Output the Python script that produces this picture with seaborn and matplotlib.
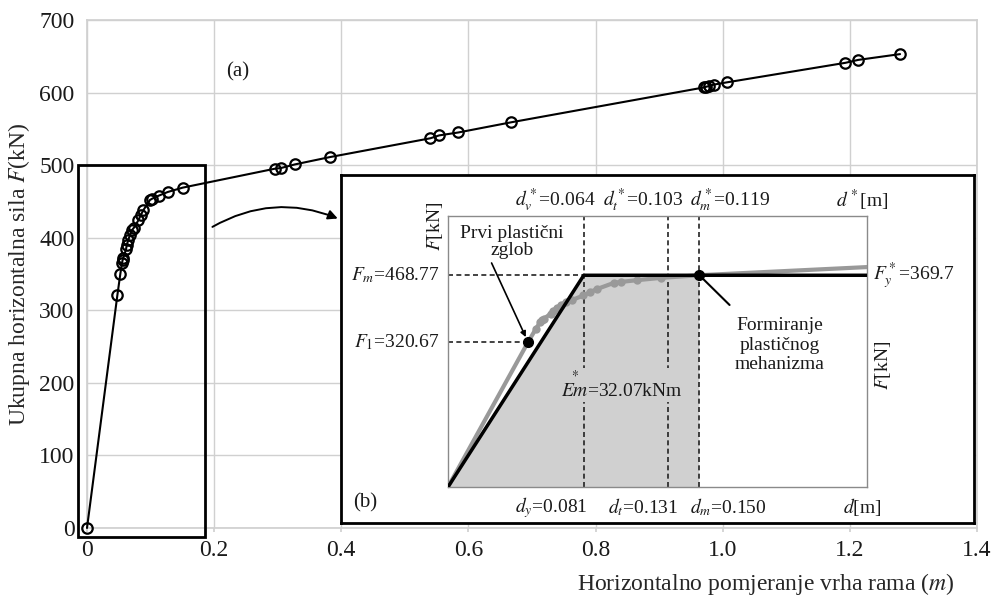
import matplotlib
matplotlib.use("Agg")
import matplotlib.pyplot as plt
import seaborn as sns
import pandas as pd
from matplotlib.patches import Rectangle, FancyArrowPatch
import matplotlib.transforms as mtransforms

sns.set_theme(style="whitegrid")
plt.rcParams["font.family"] = ["Liberation Serif", "DejaVu Serif"]
plt.rcParams["mathtext.fontset"] = "stix"
plt.rcParams["text.color"] = "#1a1a1a"

# Pushover curve (a): top displacement [m] vs base shear [kN]
disp = [0, 0.0478, 0.0524, 0.055, 0.056, 0.057, 0.0614, 0.0625, 0.065, 0.0677,
        0.0704, 0.074, 0.0808, 0.0845, 0.0887, 0.099, 0.103, 0.113, 0.127, 0.1505,
        0.295, 0.305, 0.327, 0.3815, 0.540, 0.554, 0.584, 0.667, 0.970, 0.974,
        0.978, 0.986, 1.006, 1.193, 1.213, 1.279]
force = [0, 321, 350, 365, 369, 372, 384, 390, 397, 404,
         410, 414, 424, 431, 438, 452, 454, 458, 463, 469,
         495, 496, 501, 511, 537, 541, 545, 559, 607, 608,
         609, 611, 614, 641, 645, 653]

x_ticks = [0, 0.2, 0.4, 0.6, 0.8, 1.0, 1.2, 1.4]
x_ticklabels = ["0", "0.2", "0.4", "0.6", "0.8", "1.0", "1.2", "1.4"]
y_ticks = [0, 100, 200, 300, 400, 500, 600, 700]

# Bilinear idealisation (b)
d_bilin = [0, 0.081, 0.25]
f_bilin = [0, 468.77, 468.77]
d_y, d_t, d_m = 0.081, 0.131, 0.150
F_m, F_1 = 468.77, 320.67

df = pd.DataFrame({"d": disp, "F": force})

W, H = 992, 599
fig = plt.figure(figsize=(W / 100, H / 100), dpi=100)


def px_axes(x0, y0, x1, y1):
    return fig.add_axes([x0 / W, 1 - y1 / H, (x1 - x0) / W, (y1 - y0) / H])


ax = px_axes(87, 20, 977, 528)
sns.lineplot(data=df, x="d", y="F", ax=ax, sort=False, color="black", lw=1.5,
             marker="o", markersize=7.5, markerfacecolor="none",
             markeredgecolor="black", markeredgewidth=1.6, clip_on=False, zorder=4)
ax.set_xlim(0, 1.4)
ax.set_ylim(0, 700)
ax.set_xticks(x_ticks)
ax.set_xticklabels(x_ticklabels)
ax.set_yticks(y_ticks)
ax.grid(color="#d0d0d0", lw=1)
for s in ax.spines.values():
    s.set_color("#d0d0d0")
ax.tick_params(axis="both", labelsize=17, colors="#d0d0d0", labelcolor="#1a1a1a",
               length=3, pad=6, bottom=True, left=False)
ax.set_xlabel("Horizontalno pomjeranje vrha rama ($m$)", fontsize=17, ha="right")
ax.xaxis.set_label_coords(0.975, -0.085)
ax.set_ylabel("Ukupna horizontalna sila $F$(kN)", fontsize=17)
ax.yaxis.set_label_coords(-0.062, 0.5)
ax.text(0.237, 628, "(a)", fontsize=15, ha="center", va="center")

ax.add_patch(Rectangle((-0.014, -12.4), 0.2, 512.4, fill=False, ec="black",
                       lw=2, clip_on=False, zorder=5))
ax.add_patch(FancyArrowPatch((0.1935, 413), (0.3985, 425),
                             connectionstyle="arc3,rad=-0.25", arrowstyle="-|>",
                             mutation_scale=14, lw=1.4, color="black",
                             clip_on=False, zorder=6))

# inset frame
axb = px_axes(341, 175, 974, 523)
axb.set_facecolor("white")
axb.set_xticks([])
axb.set_yticks([])
axb.grid(False)
for s in axb.spines.values():
    s.set_color("black")
    s.set_linewidth(2)
axb.text(0.038, 0.057, "(b)", transform=axb.transAxes, fontsize=15,
         ha="center", va="center")

# inset plot
axi = px_axes(448, 216, 867, 487)
axi.set_facecolor("white")
axi.set_xlim(0, 0.25)
axi.set_ylim(0, 600)
axi.set_xticks([])
axi.set_yticks([])
axi.grid(False)
for s in axi.spines.values():
    s.set_color("#8a8a8a")
    s.set_linewidth(1)

fill_color = "#d0d0d0"
axi.fill([0, d_y, d_m, d_m], [0, F_m, F_m, 0], color=fill_color, lw=0, zorder=1)
for xv in [d_y, d_t, d_m]:
    axi.axvline(xv, color="#222222", lw=1.2, dashes=(3, 2), zorder=2)
axi.plot([0, d_y], [F_m, F_m], color="#222222", lw=1.2, dashes=(3, 2), zorder=2)
axi.plot([0, disp[1]], [F_1, F_1], color="#222222", lw=1.2, dashes=(3, 2), zorder=2)

sns.lineplot(data=df, x="d", y="F", ax=axi, sort=False, color="#999999", lw=3,
             marker="o", markersize=6, markeredgewidth=0, markevery=slice(1, None),
             zorder=3)
sns.lineplot(x=d_bilin, y=f_bilin, ax=axi, color="black", lw=2.5, zorder=4)
axi.plot([disp[1], d_m], [F_1, F_m], "o", color="black", ms=7, zorder=5)
axi.set_xlabel("")
axi.set_ylabel("")

fs = 14
blend_top = mtransforms.blended_transform_factory(axi.transData, axi.transAxes)
top_labels = [(0.0638, "$d_v^*$=0.064"), (0.1163, "$d_t^*$=0.103"),
              (0.1683, "$d_m^*$=0.119"), (0.247, "$d^*$[m]")]
for xv, lab in top_labels:
    axi.text(xv, 1.059, lab, transform=blend_top, fontsize=fs, ha="center", va="center")
bottom_labels = [(0.0615, "$d_y$=0.081"), (0.1163, "$d_t$=0.131"),
                 (0.167, "$d_m$=0.150"), (0.247, "$d$[m]")]
for xv, lab in bottom_labels:
    axi.text(xv, -0.074, lab, transform=blend_top, fontsize=fs, ha="center", va="center")

blend_left = mtransforms.blended_transform_factory(axi.transAxes, axi.transData)
axi.text(-0.019, F_m, "$F_m$=468.77", transform=blend_left, fontsize=fs,
         ha="right", va="center")
axi.text(-0.019, F_1, "$F_1$=320.67", transform=blend_left, fontsize=fs,
         ha="right", va="center")
axi.text(1.014, F_m, "$F_y^*$=369.7", transform=blend_left, fontsize=fs,
         ha="left", va="center")
axi.text(-0.031, 0.963, "$F$[kN]", transform=axi.transAxes, fontsize=fs,
         rotation=90, ha="center", va="center")
axi.text(1.038, 0.45, "$F$[kN]", transform=axi.transAxes, fontsize=fs,
         rotation=90, ha="center", va="center")

axi.text(0.038, 542, "Prvi plastični\nzglob", fontsize=fs, ha="center",
         va="center", linespacing=1.0)
axi.annotate("", xy=(disp[1], F_1), xytext=(0.026, 496),
             arrowprops=dict(arrowstyle="-|>", color="black", lw=1.2,
                             mutation_scale=8, shrinkA=0, shrinkB=4),
             annotation_clip=False)
axi.text(0.198, 314, "Formiranje\nplastičnog\nmehanizma", fontsize=fs,
         ha="center", va="center", linespacing=1.2)
axi.annotate("", xy=(d_m, F_m), xytext=(0.168, 403),
             arrowprops=dict(arrowstyle="-", color="black", lw=1.5,
                             shrinkA=0, shrinkB=3),
             annotation_clip=False)
axi.text(0.104, 226, r"$\overset{*}{Em}$=32.07kNm", fontsize=fs, ha="center",
         va="center", zorder=3,
         bbox=dict(facecolor=fill_color, edgecolor="none", pad=1))

fig.savefig("out.png", dpi=100)
